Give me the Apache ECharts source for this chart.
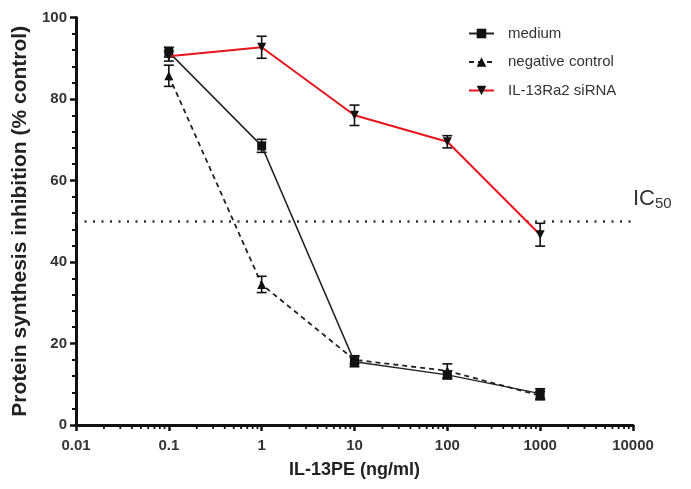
<!DOCTYPE html>
<html>
<head>
<meta charset="utf-8">
<script src="https://cdn.jsdelivr.net/npm/echarts@6/dist/echarts.min.js"></script>
<style>html,body{margin:0;padding:0;background:#fff}#c{width:691px;height:489px}</style>
</head>
<body>
<div id="c"></div>
<script>
// ---- data ----
const xValues = [0.1, 1, 10, 100, 1000];
const medium = [91.5, 68.5, 15.5, 12.3, 7.7];
const mediumErr = [1.2, 1.6, 1.2, 1.0, 1.2];
const negative = [85.7, 34.5, 16, 13.3, 7.2];
const negativeErr = [2.6, 2.0, 1.0, 1.7, 1.0];
const sirna = [90.5, 92.7, 76, 69.5, 46.7];
const sirnaErr = [1.2, 2.7, 2.5, 1.5, 2.8];
const xMinorTicks = [];
[0.01, 0.1, 1, 10, 100, 1000].forEach(function (d) {
  [2, 3, 4, 5, 6, 7, 8, 9].forEach(function (m) { xMinorTicks.push(+(d * m).toPrecision(3)); });
});
const ic50 = 50;

const FONT = 'Liberation Sans';

function pairs(vals) { return xValues.map(function (x, i) { return [x, vals[i]]; }); }
function errData(vals, errs) { return xValues.map(function (x, i) { return [x, vals[i] - errs[i], vals[i] + errs[i]]; }); }

function errRender(params, api) {
  const top = api.coord([api.value(0), api.value(2)]);
  const bot = api.coord([api.value(0), api.value(1)]);
  const w = 5;
  const st = { stroke: '#111', lineWidth: 1.6 };
  return {
    type: 'group',
    children: [
      { type: 'line', shape: { x1: top[0], y1: top[1], x2: bot[0], y2: bot[1] }, style: st },
      { type: 'line', shape: { x1: top[0] - w, y1: top[1], x2: top[0] + w, y2: top[1] }, style: st },
      { type: 'line', shape: { x1: bot[0] - w, y1: bot[1], x2: bot[0] + w, y2: bot[1] }, style: st }
    ]
  };
}

function minorRender(params, api) {
  const p = api.coord([api.value(0), 0]);
  return { type: 'line', shape: { x1: p[0], y1: p[1], x2: p[0], y2: p[1] + 4 }, style: { stroke: '#111', lineWidth: 1.8 } };
}

const chart = echarts.init(document.getElementById('c'));
chart.setOption({
  animation: false,
  textStyle: { fontFamily: FONT },
  grid: { left: 76, top: 17.5, right: 58, bottom: 64, containLabel: false },
  legend: {
    orient: 'vertical', left: 468, top: 26, padding: 0, itemWidth: 25, itemHeight: 12, itemGap: 13.5,
    textStyle: { fontFamily: FONT, fontSize: 15, lineHeight: 15, color: '#333', padding: [0, 0, 0, 9] },
    data: ['medium', 'negative control', 'IL-13Ra2 siRNA']
  },
  xAxis: {
    type: 'log', logBase: 10, min: 0.01, max: 10000,
    name: 'IL-13PE (ng/ml)', nameLocation: 'middle', nameGap: 36,
    nameTextStyle: { fontFamily: FONT, fontSize: 18, fontWeight: 'bold', color: '#222' },
    axisLine: { lineStyle: { color: '#111', width: 3 } },
    axisTick: { length: 6, lineStyle: { width: 2.5, color: '#111' } },
    axisLabel: { fontFamily: FONT, fontSize: 15, fontWeight: 'bold', color: '#333', margin: 13,
      formatter: function (v) { return String(+v.toPrecision(3)); } },
    splitLine: { show: false }
  },
  yAxis: {
    type: 'value', min: 0, max: 100, interval: 20,
    name: 'Protein synthesis inhibition (% control)', nameLocation: 'middle', nameGap: 39,
    nameTextStyle: { fontFamily: FONT, fontSize: 21, fontWeight: 'bold', color: '#222' },
    axisLine: { show: true, lineStyle: { color: '#111', width: 3 } },
    axisTick: { show: true, length: 6, lineStyle: { width: 2.5, color: '#111' } },
    minorTick: { show: true, splitNumber: 5, length: 4, lineStyle: { width: 2, color: '#111' } },
    axisLabel: { fontFamily: FONT, fontSize: 15, fontWeight: 'bold', color: '#333', margin: 9 },
    splitLine: { show: false }
  },
  series: [
    { type: 'custom', name: 'minorX', renderItem: minorRender, data: xMinorTicks.map(function (v) { return [v]; }), clip: false, silent: true, z: 1 },
    { type: 'custom', name: 'errMedium', renderItem: errRender, data: errData(medium, mediumErr), z: 2, silent: true },
    { type: 'custom', name: 'errNeg', renderItem: errRender, data: errData(negative, negativeErr), z: 2, silent: true },
    { type: 'custom', name: 'errSi', renderItem: errRender, data: errData(sirna, sirnaErr), z: 2, silent: true },
    {
      type: 'line', name: 'negative control', data: pairs(negative),
      symbol: 'triangle', symbolSize: 9,
      lineStyle: { color: '#222', width: 1.8, type: [5, 4] },
      itemStyle: { color: '#111' }, z: 3
    },
    {
      type: 'line', name: 'medium', data: pairs(medium),
      symbol: 'rect', symbolSize: 9,
      lineStyle: { color: '#222', width: 1.5 },
      itemStyle: { color: '#111' }, z: 4,
      markLine: {
        silent: true, symbol: 'none',
        lineStyle: { color: '#333', width: 2.5, type: [2, 6.5] },
        label: {
          show: true, position: 'end', distance: 0, offset: [0, -22],
          formatter: '{a|IC}{b|50}',
          rich: { a: { fontFamily: FONT, fontSize: 22, color: '#333' }, b: { fontFamily: FONT, fontSize: 15, color: '#333', padding: [9, 0, 0, 0] } }
        },
        data: [{ yAxis: ic50 }]
      }
    },
    {
      type: 'line', name: 'IL-13Ra2 siRNA', data: pairs(sirna),
      symbol: 'path://M0,0 L10,0 L5,10 Z', symbolSize: 9,
      lineStyle: { color: '#e8141b', width: 2 },
      itemStyle: { color: '#111' }, z: 5
    }
  ]
});
</script>
</body>
</html>
